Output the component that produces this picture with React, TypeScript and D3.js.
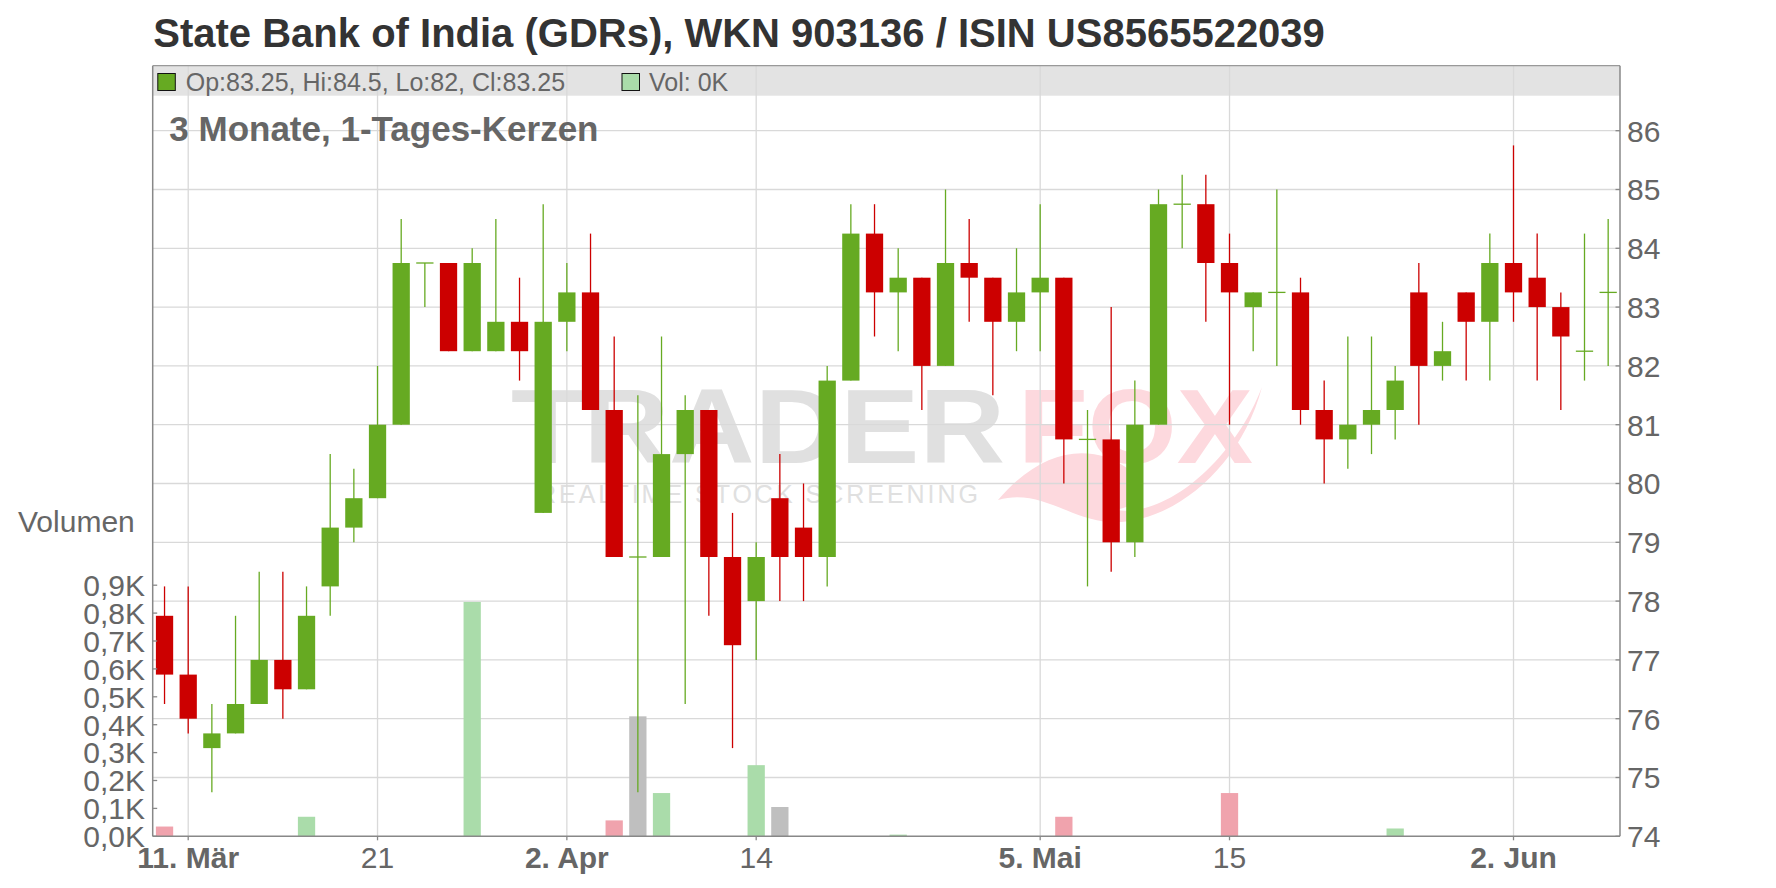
import React from "react";
import * as d3 from "d3";

const dates = [
  "2025-03-10","2025-03-11","2025-03-12","2025-03-13","2025-03-14","2025-03-17","2025-03-18","2025-03-19","2025-03-20","2025-03-21",
  "2025-03-24","2025-03-25","2025-03-26","2025-03-27","2025-03-28","2025-03-31","2025-04-01","2025-04-02","2025-04-03","2025-04-04",
  "2025-04-07","2025-04-08","2025-04-09","2025-04-10","2025-04-11","2025-04-14","2025-04-15","2025-04-16","2025-04-17","2025-04-22",
  "2025-04-23","2025-04-24","2025-04-25","2025-04-28","2025-04-29","2025-04-30","2025-05-02","2025-05-05","2025-05-06","2025-05-07",
  "2025-05-08","2025-05-09","2025-05-12","2025-05-13","2025-05-14","2025-05-15","2025-05-16","2025-05-19","2025-05-20","2025-05-21",
  "2025-05-22","2025-05-23","2025-05-26","2025-05-27","2025-05-28","2025-05-29","2025-05-30","2025-06-02","2025-06-03","2025-06-04",
  "2025-06-05","2025-06-06",
];

const opens = [
  77.75, 76.75, 75.5, 75.75, 76.25, 77.0, 76.5, 78.25, 79.25, 79.75,
  81.0, 83.75, 83.75, 82.25, 82.25, 82.75, 79.5, 82.75, 83.25, 81.25,
  78.75, 78.75, 80.5, 81.25, 78.75, 78.0, 79.75, 79.25, 78.75, 81.75,
  84.25, 83.25, 83.5, 82.0, 83.75, 83.5, 82.75, 83.25, 83.5, 80.75,
  80.75, 79.0, 81.0, 84.75, 84.75, 83.75, 83.0, 83.25, 83.25, 81.25,
  80.75, 81.0, 81.25, 83.25, 82.0, 83.25, 82.75, 83.75, 83.5, 83.0,
  82.25, 83.25,
];
const highs = [
  78.25, 78.25, 76.25, 77.75, 78.5, 78.5, 78.25, 80.5, 80.25, 82.0,
  84.5, 83.75, 83.75, 84.0, 84.5, 83.5, 84.75, 83.75, 84.25, 82.5,
  81.5, 82.5, 81.5, 81.25, 79.5, 79.0, 80.5, 80.0, 82.0, 84.75,
  84.75, 84.0, 83.5, 85.0, 84.5, 83.5, 84.0, 84.75, 83.5, 81.25,
  83.0, 81.75, 85.0, 85.25, 85.25, 84.25, 83.25, 85.0, 83.5, 81.75,
  82.5, 82.5, 82.0, 83.75, 82.75, 83.25, 84.25, 85.75, 84.25, 83.25,
  84.25, 84.5,
];
const lows = [
  76.25, 75.75, 74.75, 75.75, 76.25, 76.0, 76.5, 77.75, 79.0, 79.75,
  81.0, 83.0, 82.25, 82.25, 82.25, 81.75, 79.5, 82.25, 81.25, 78.75,
  74.75, 78.75, 76.25, 77.75, 75.5, 77.0, 78.0, 78.0, 78.25, 81.75,
  82.5, 82.25, 81.25, 82.0, 82.75, 81.5, 82.25, 82.25, 80.0, 78.25,
  78.5, 78.75, 81.0, 84.0, 82.75, 81.0, 82.25, 82.0, 81.0, 80.0,
  80.25, 80.5, 80.75, 81.0, 81.75, 81.75, 81.75, 82.75, 81.75, 81.25,
  81.75, 82.0,
];
const closes = [
  76.75, 76.0, 75.75, 76.25, 77.0, 76.5, 77.75, 79.25, 79.75, 81.0,
  83.75, 83.75, 82.25, 83.75, 82.75, 82.25, 82.75, 83.25, 81.25, 78.75,
  78.75, 80.5, 81.25, 78.75, 77.25, 78.75, 78.75, 78.75, 81.75, 84.25,
  83.25, 83.5, 82.0, 83.75, 83.5, 82.75, 83.25, 83.5, 80.75, 80.75,
  79.0, 81.0, 84.75, 84.75, 83.75, 83.25, 83.25, 83.25, 81.25, 80.75,
  81.0, 81.25, 81.75, 82.0, 82.25, 82.75, 83.75, 83.25, 83.0, 82.5,
  82.25, 83.25,
];
// volume in thousands
const volumes = [
  0.035, 0, 0, 0, 0, 0, 0.07, 0, 0, 0,
  0, 0, 0, 0.84, 0, 0, 0, 0, 0, 0.057,
  0.43, 0.155, 0, 0, 0, 0.255, 0.105, 0, 0, 0,
  0, 0.006, 0, 0, 0, 0, 0, 0, 0.07, 0,
  0, 0, 0, 0, 0, 0.155, 0, 0, 0, 0,
  0, 0, 0.028, 0, 0, 0, 0, 0, 0, 0,
  0, 0,
];

const tickDates = ["2025-03-11", "2025-03-21", "2025-04-02", "2025-04-14", "2025-05-05", "2025-05-15", "2025-06-02"];
const tickLabels = ["11. Mär", "21", "2. Apr", "14", "5. Mai", "15", "2. Jun"];
const tickBold = [true, false, true, false, true, false, true];

const priceTicks = [74, 75, 76, 77, 78, 79, 80, 81, 82, 83, 84, 85, 86];
const volumeTicks = [0, 0.1, 0.2, 0.3, 0.4, 0.5, 0.6, 0.7, 0.8, 0.9];

const TITLE = "State Bank of India (GDRs), WKN 903136 / ISIN US8565522039";
const SUBTITLE = "3 Monate, 1-Tages-Kerzen";
const LEGEND_OHLC = "Op:83.25, Hi:84.5, Lo:82, Cl:83.25";
const LEGEND_VOL = "Vol: 0K";

const W = 1776, H = 888;
const L = 152.7, R = 1620, T = 65.7, B = 836.3;
const FONT = "'Liberation Sans', Arial, Helvetica, sans-serif";
const GREEN = "#66aa22";
const RED = "#cc0000";
const VOL_GREEN = "#aadcaa";
const VOL_RED = "#f0a3ad";
const VOL_GRAY = "#bfbfbf";
const GRID = "#d9d9d9";
const AXIS = "#888888";
const TEXT = "#666666";

const deLocale = d3.formatLocale({ decimal: ",", thousands: ".", grouping: [3], currency: ["", "€"] });
const volFmt = deLocale.format(".1f");

export default function App() {
  const x = d3.scaleBand<string>().domain(dates).range([L, R]).paddingInner(0.27).paddingOuter(0.135);
  const bw = x.bandwidth();
  const cx = (d: string) => (x(d) as number) + bw / 2;
  const y = d3.scaleLinear().domain([74, 86]).range([B, 130.7]);
  const yv = d3.scaleLinear().domain([0, 0.9]).range([B, 585.2]);

  return (
    <svg width={W} height={H} style={{ position: "absolute", left: 0, top: 0, background: "#fff" }} fontFamily={FONT}>
      <rect x={0} y={0} width={W} height={H} fill="#fff" />
      {/* title */}
      <text x={153.3} y={46.7} fontSize={40} fontWeight="bold" fill="#333333">{TITLE}</text>

      {/* watermark */}
      <g>
        <text x={511} y={463} fontSize={105} fontWeight="bold" fill="#e0e0e0" textLength={494} lengthAdjust="spacingAndGlyphs">TRADER</text>
        <text x={1018} y={463} fontSize={105} fontWeight="bold" fill="#fdd9de" textLength={235} lengthAdjust="spacingAndGlyphs">FOX</text>
        <path d="M 998 500 C 1040 450, 1090 440, 1130 470 C 1160 495, 1120 520, 1100 505 C 1150 530, 1230 470, 1262 387 C 1240 470, 1170 525, 1110 522 C 1070 520, 1040 488, 998 500 Z" fill="#fdd9de" />
        <text x={538} y={503} fontSize={25} fill="#e0e0e0" textLength={440} lengthAdjust="spacing">REALTIME STOCK SCREENING</text>
      </g>

      {/* legend band */}
      <rect x={L} y={T} width={R - L} height={95.7 - T} fill="#e3e3e3" />

      {/* horizontal grid */}
      {priceTicks.filter((p) => p > 74).map((p) => (
        <line key={"hg" + p} x1={L} x2={R} y1={y(p)} y2={y(p)} stroke={GRID} strokeWidth={1.3} />
      ))}
      {/* vertical grid */}
      {tickDates.map((d) => (
        <line key={"vg" + d} x1={cx(d)} x2={cx(d)} y1={T} y2={B} stroke={GRID} strokeWidth={1.3} />
      ))}

      {/* legend content */}
      <rect x={157.8} y={73.5} width={17.5} height={17} fill={GREEN} stroke="#111" strokeWidth={1} />
      <text x={185.7} y={90.5} fontSize={25} fill={TEXT}>{LEGEND_OHLC}</text>
      <rect x={622} y={73.5} width={17.5} height={17} fill={VOL_GREEN} stroke="#111" strokeWidth={1} />
      <text x={649} y={90.5} fontSize={25} fill={TEXT}>{LEGEND_VOL}</text>

      {/* subtitle */}
      <text x={169.3} y={140.5} fontSize={35} fontWeight="bold" fill={TEXT}>{SUBTITLE}</text>

      {/* volume bars */}
      {dates.map((d, i) => {
        const v = volumes[i];
        if (!v) return null;
        const prev = i > 0 ? closes[i - 1] : opens[i];
        const col = closes[i] > prev ? VOL_GREEN : closes[i] < prev ? VOL_RED : VOL_GRAY;
        return <rect key={"v" + d} x={x(d)} y={yv(v)} width={bw} height={B - yv(v)} fill={col} />;
      })}

      {/* candles */}
      {dates.map((d, i) => {
        const o = opens[i], h = highs[i], l = lows[i], c = closes[i];
        const up = c >= o;
        const col = up ? GREEN : RED;
        const top = y(Math.max(o, c));
        const bot = y(Math.min(o, c));
        const xc = cx(d);
        return (
          <g key={"c" + d}>
            <line x1={xc} x2={xc} y1={y(h)} y2={y(l)} stroke={col} strokeWidth={1.3} />
            {o === c ? (
              <line x1={x(d)} x2={(x(d) as number) + bw} y1={top} y2={top} stroke={col} strokeWidth={1.3} />
            ) : (
              <rect x={x(d)} y={top} width={bw} height={bot - top} fill={col} />
            )}
          </g>
        );
      })}

      {/* axes lines / border */}
      <line x1={L} x2={R} y1={T} y2={T} stroke="#999" strokeWidth={1.3} />
      <line x1={L} x2={L} y1={T} y2={B} stroke={AXIS} strokeWidth={1.5} />
      <line x1={R} x2={R} y1={T} y2={B} stroke={AXIS} strokeWidth={1.5} />
      <line x1={L} x2={R} y1={B} y2={B} stroke={AXIS} strokeWidth={1.5} />

      {/* right price axis */}
      {priceTicks.map((p) => (
        <g key={"pt" + p}>
          <line x1={R - 4.5} x2={R} y1={y(p)} y2={y(p)} stroke={AXIS} strokeWidth={1.3} />
          <text x={1627} y={y(p) + 10.8} fontSize={30} fill={TEXT}>{p}</text>
        </g>
      ))}

      {/* left volume axis */}
      {volumeTicks.map((v) => (
        <g key={"vt" + v}>
          <line x1={L} x2={L + 4.5} y1={yv(v)} y2={yv(v)} stroke={AXIS} strokeWidth={1.3} />
          <text x={145} y={yv(v) + 10.8} fontSize={30} fill={TEXT} textAnchor="end">{volFmt(v) + "K"}</text>
        </g>
      ))}
      <text x={18} y={531.7} fontSize={30} fill={TEXT}>Volumen</text>

      {/* x axis */}
      {tickDates.map((d, i) => (
        <g key={"xt" + d}>
          <line x1={cx(d)} x2={cx(d)} y1={B} y2={B + 4} stroke={AXIS} strokeWidth={1.3} />
          <text x={cx(d)} y={868.3} fontSize={30} fontWeight={tickBold[i] ? "bold" : "normal"} fill={TEXT} textAnchor="middle">{tickLabels[i]}</text>
        </g>
      ))}
    </svg>
  );
}
